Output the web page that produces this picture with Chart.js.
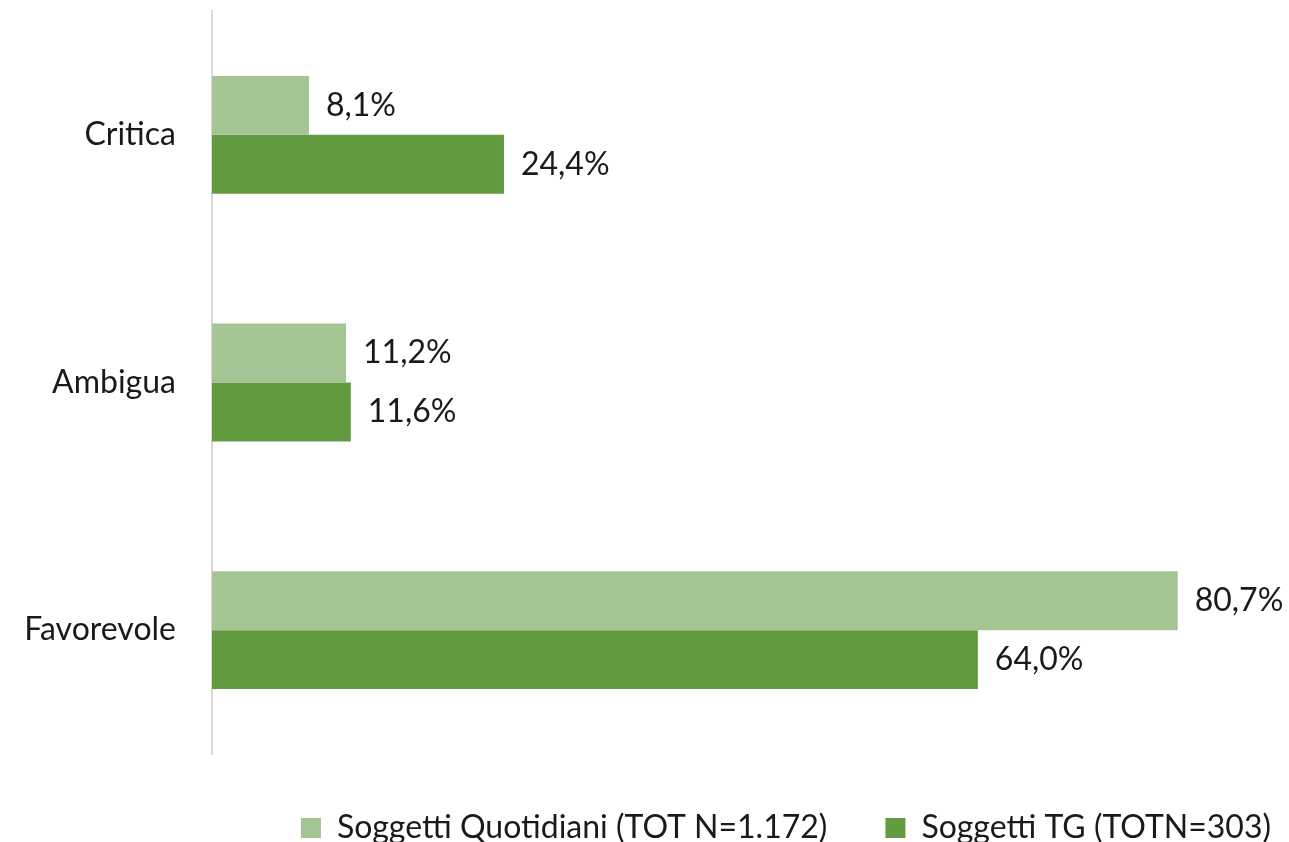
<!DOCTYPE html>
<html>
<head>
<meta charset="utf-8">
<script src="https://cdn.jsdelivr.net/npm/chart.js@4.4.1/dist/chart.umd.min.js"></script>
<style>
    html, body { margin: 0; padding: 0; background: #fff; }
    #wrap { width: 1289px; height: 842px; }
</style>
</head>
<body>
<div id="wrap"><canvas id="chartTono"></canvas></div>
<script>
const categories = ['Critica', 'Ambigua', 'Favorevole'];
const quotidiani = [8.1, 11.2, 80.7];
const tg = [24.4, 11.6, 64.0];
const seriesNames = ['Soggetti Quotidiani (TOT N=1.172)', 'Soggetti TG (TOTN=303)'];

const FONT = 'Lato, "Open Sans", sans-serif';
const TEXT = '#1a1a1a';

// valori in fondo a ogni barra, con la virgola decimale
const valueLabels = {
    id: 'valueLabels',
    afterDatasetsDraw(chart) {
        const ctx = chart.ctx;
        ctx.save();
        ctx.font = '32px ' + FONT;
        ctx.fillStyle = TEXT;
        ctx.textAlign = 'left';
        ctx.textBaseline = 'middle';
        chart.data.datasets.forEach((ds, i) => {
            chart.getDatasetMeta(i).data.forEach((bar, j) => {
                const txt = ds.data[j].toFixed(1).replace('.', ',') + '%';
                ctx.fillText(txt, bar.x + 17, bar.y);
            });
        });
        ctx.restore();
    }
};

// legenda alta 88px, spostata verso il bordo destro
const legendBox = {
    id: 'legendBox',
    beforeInit(chart) {
        const fit = chart.legend.fit;
        chart.legend.fit = function () {
            fit.call(this);
            this.height = 88;
        };
    },
    afterLayout(chart) {
        chart.legend.left += 40;
        chart.legend.right += 40;
    }
};

new Chart(document.getElementById('chartTono').getContext('2d'), {
    type: 'bar',
    data: {
        labels: categories,
        datasets: [{
            label: seriesNames[0],
            data: quotidiani,
            backgroundColor: '#a4c493'
        }, {
            label: seriesNames[1],
            data: tg,
            backgroundColor: '#629b3f'
        }]
    },
    options: {
        indexAxis: 'y',
        responsive: true,
        maintainAspectRatio: false,
        animation: false,
        layout: { padding: { top: 11, right: 0, left: 0, bottom: 0 } },
        datasets: {
            bar: { barPercentage: 1, categoryPercentage: 0.476 }
        },
        plugins: {
            tooltip: { enabled: false },
            legend: {
                position: 'bottom',
                align: 'end',
                labels: {
                    boxWidth: 20,
                    boxHeight: 20,
                    padding: 58,
                    color: TEXT,
                    font: { family: FONT, size: 32 }
                }
            }
        },
        scales: {
            x: { display: false, min: 0, max: 90 },
            y: {
                grid: { display: false, drawTicks: false },
                border: { display: true, color: '#d9d9d9', width: 2 },
                ticks: {
                    padding: 36,
                    color: TEXT,
                    font: { family: FONT, size: 32 }
                },
                afterFit(scale) {
                    scale.width = 212;
                    scale.paddingTop = 0;
                    scale.paddingBottom = 0;
                }
            }
        }
    },
    plugins: [valueLabels, legendBox]
});
</script>
</body>
</html>
